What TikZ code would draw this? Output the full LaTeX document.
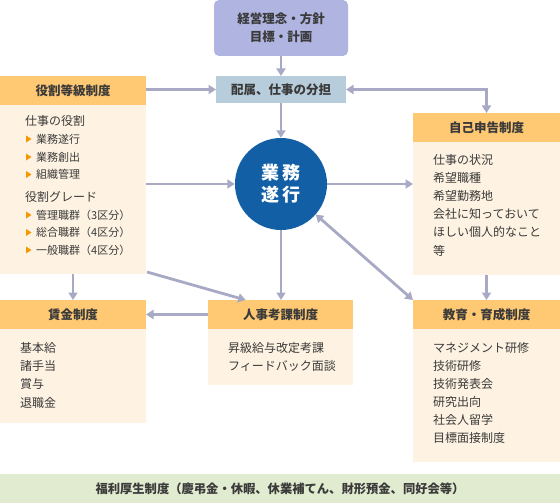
\documentclass[tikz,border=0pt]{standalone}
\usepackage{fontspec}
\setmainfont{Noto Sans CJK JP}
\usetikzlibrary{arrows.meta,calc}
\definecolor{hdr}{HTML}{FFC873}
\definecolor{cream}{HTML}{FEF3E2}
\definecolor{lav}{HTML}{AFB4E0}
\definecolor{haiz}{HTML}{B8CDDC}
\definecolor{navy}{HTML}{135FA5}
\definecolor{arrowc}{HTML}{A8A9C5}
\definecolor{foot}{HTML}{E1EBCF}
\definecolor{txt}{HTML}{3A3A3A}
\definecolor{bul}{HTML}{F39800}
\begin{document}
\begin{tikzpicture}[x=1pt,y=-1pt,
  box/.style={rectangle, inner sep=0pt, outer sep=0pt, draw=none},
  hdrbox/.style={box, fill=hdr, minimum height=29pt, text=txt, font=\bfseries\fontsize{12.5}{14}\selectfont},
  bodybox/.style={box, fill=cream},
  btxt/.style={inner sep=0pt, anchor=west, text=txt, font=\fontsize{12}{14}\selectfont},
  stxt/.style={inner sep=0pt, anchor=west, text=txt, font=\fontsize{11}{13}\selectfont},
  arr/.style={draw=arrowc, line width=2.8pt, -{Triangle[length=7.5pt,width=9pt]}},
  darr/.style={draw=arrowc, line width=2.8pt, {Triangle[length=7.5pt,width=9pt]}-{Triangle[length=7.5pt,width=9pt]}}
]
\useasboundingbox (0,0) rectangle (560,503);

% top
\node[box, fill=lav, rounded corners=5pt, minimum width=134pt, minimum height=56pt, text=txt, align=center,
  font=\bfseries\fontsize{12.5}{18}\selectfont] (top) at (281,28) {経営理念・方針\\目標・計画};
\node[box, fill=haiz, minimum width=130pt, minimum height=27pt, text=txt,
  font=\bfseries\fontsize{12.5}{14}\selectfont] (haiz) at (281,89.5) {配属、仕事の分担};

% circle
\node[circle, fill=navy, minimum size=92pt, inner sep=0pt, text=white, align=center,
  font=\bfseries\fontsize{18}{22}\selectfont] (circ) at (281,184) {業\hspace{4pt}務\\遂\hspace{4pt}行};

% yakuwari
\node[hdrbox, minimum width=146pt] (yh) at (73,90.5) {役割等級制度};
\node[bodybox, minimum width=146pt, minimum height=169pt] (yb) at (73,189.5) {};
\node[btxt] (y1) at (25,121) {仕事の役割};
\node[stxt] (y2) at (36,139) {業務遂行};
\node[stxt] (y3) at (36,157) {業務創出};
\node[stxt] (y4) at (36,174.5) {組織管理};
\node[btxt] (y5) at (25,197) {役割グレード};
\node[stxt] (y6) at (36,215) {管理職群（3区分）};
\node[stxt] (y7) at (36,232.5) {総合職群（4区分）};
\node[stxt] (y8) at (36,250) {一般職群（4区分）};
\foreach \yy in {139,157,174.5,215,232.5,250}
  \fill[bul] (26,\yy-3.5) -- (26,\yy+3.5) -- (31.5,\yy) -- cycle;

% jiko
\node[hdrbox, minimum width=147pt] (jh) at (486.5,127.5) {自己申告制度};
\node[bodybox, minimum width=147pt, minimum height=133pt] (jb) at (486.5,208.5) {};
\foreach \t [count=\i] in {仕事の状況,希望職種,希望勤務地,会社に知っておいて,ほしい個人的なこと,等}
  \node[btxt, name=j\i] at (433,{160+18.1*(\i-1)}) {\t};

% chingin
\node[hdrbox, minimum width=146pt] (ch) at (73,314.5) {賃金制度};
\node[bodybox, minimum width=146pt, minimum height=94pt] (cb) at (73,376) {};
\foreach \t [count=\i] in {基本給,諸手当,賞与,退職金}
  \node[btxt, name=c\i] at (20,{347.7+18.3*(\i-1)}) {\t};

% jinji
\node[hdrbox, minimum width=145pt] (jjh) at (280.5,314.5) {人事考課制度};
\node[bodybox, minimum width=145pt, minimum height=56pt] (jjb) at (280.5,357) {};
\foreach \t [count=\i] in {昇級給与改定考課,フィードバック面談}
  \node[btxt, name=p\i] at (228,{347.7+18.1*(\i-1)}) {\t};

% kyoiku
\node[hdrbox, minimum width=147pt] (kh) at (486.5,314.5) {教育・育成制度};
\node[bodybox, minimum width=147pt, minimum height=133pt] (kb) at (486.5,395.5) {};
\foreach \t [count=\i] in {マネジメント研修,技術研修,技術発表会,研究出向,社会人留学,目標面接制度}
  \node[btxt, name=k\i] at (433,{347.7+18.1*(\i-1)}) {\t};

% footer
\node[box, fill=foot, minimum width=560pt, minimum height=29pt, text=txt,
  font=\bfseries\fontsize{12.3}{14}\selectfont] (ft) at (280,488.5) {福利厚生制度（慶弔金・休暇、休業補てん、財形預金、同好会等）};

% arrows
\draw[arr] (top.south) -- (haiz.north);
\draw[arr] (haiz.south) -- (circ.north);
\draw[arr] (yh.east |- haiz.west) -- (haiz.west);
\draw[arr] (circ.west -| yb.east) -- (circ.west);
\draw[darr] (haiz.east) -| (jh.north);
\draw[arr] (circ.east) -- (circ.east -| jb.west);
\draw[arr] (circ.south) -- (jjh.north -| circ.south);
\draw[arr] (yb.south) -- (ch.north);
\draw[arr] ($(yb.south east)+(1,-2)$) -- ($(jjh.north west)!0.26!(jjh.north east)$);
\draw[arr] (jjh.west) -- (ch.east);
\draw[darr] (kh.north west) -- (circ);
\draw[arr] (jb.south) -- (kh.north);
\end{tikzpicture}
\end{document}
